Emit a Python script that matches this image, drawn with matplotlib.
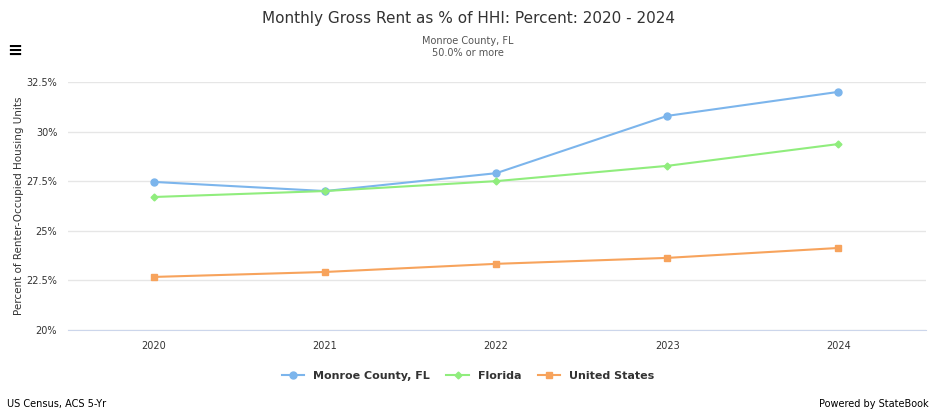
import matplotlib.pyplot as plt
from matplotlib.ticker import FuncFormatter

years = [2020, 2021, 2022, 2023, 2024]
monroe = [27.46, 27.0, 27.9, 30.79, 32.0]
florida = [26.7, 27.0, 27.5, 28.27, 29.37]
us = [22.67, 22.92, 23.33, 23.63, 24.13]
ticks = [20, 22.5, 25, 27.5, 30, 32.5]

fig = plt.figure(figsize=(9.36, 4.16), dpi=100)
ax = fig.add_axes([0.073, 0.207, 0.916, 0.596])

ax.plot(years, monroe, marker='o', ms=5, color='#7cb5ec', lw=1.5, label='Monroe County, FL')
ax.plot(years, florida, marker='D', ms=3.5, color='#90ed7d', lw=1.5, label='Florida')
ax.plot(years, us, marker='s', ms=5, color='#f7a35c', lw=1.5, label='United States')

ax.set_xlim(2019.5, 2024.51)
ax.set_ylim(20, 32.5)
ax.set_xticks(years)
ax.set_yticks(ticks)

def fmt(v, p):
    s = ('%.1f' % v).rstrip('0').rstrip('.')
    return s + '%'
ax.yaxis.set_major_formatter(FuncFormatter(fmt))
ax.grid(axis='y', color='#e6e6e6', lw=1)
ax.set_axisbelow(True)
for s in ['top', 'right', 'left']:
    ax.spines[s].set_visible(False)
ax.spines['bottom'].set_color('#ccd6eb')
ax.tick_params(axis='both', length=0, labelsize=7, colors='#333333', pad=8)
ax.set_ylabel('Percent of Renter-Occupied Housing Units', fontsize=7.5, color='#333333', labelpad=2)

fig.text(0.5, 0.945, 'Monthly Gross Rent as % of HHI: Percent: 2020 - 2024', ha='center', fontsize=11, color='#333333')
fig.text(0.5, 0.895, 'Monroe County, FL', ha='center', fontsize=7, color='#555555')
fig.text(0.5, 0.865, '50.0% or more', ha='center', fontsize=7, color='#555555')
fig.text(0.008, 0.865, '\u2261', fontsize=13, fontweight='bold')
fig.text(0.008, 0.022, 'US Census, ACS 5-Yr', fontsize=7)
fig.text(0.992, 0.022, 'Powered by StateBook', fontsize=7, ha='right')

leg = fig.legend(loc='lower center', bbox_to_anchor=(0.5, 0.06), ncol=3, frameon=False,
                 prop={'size': 8, 'weight': 'bold'}, handlelength=2, columnspacing=1.5)
for t in leg.get_texts():
    t.set_color('#333333')

fig.savefig('out.png', dpi=100)
